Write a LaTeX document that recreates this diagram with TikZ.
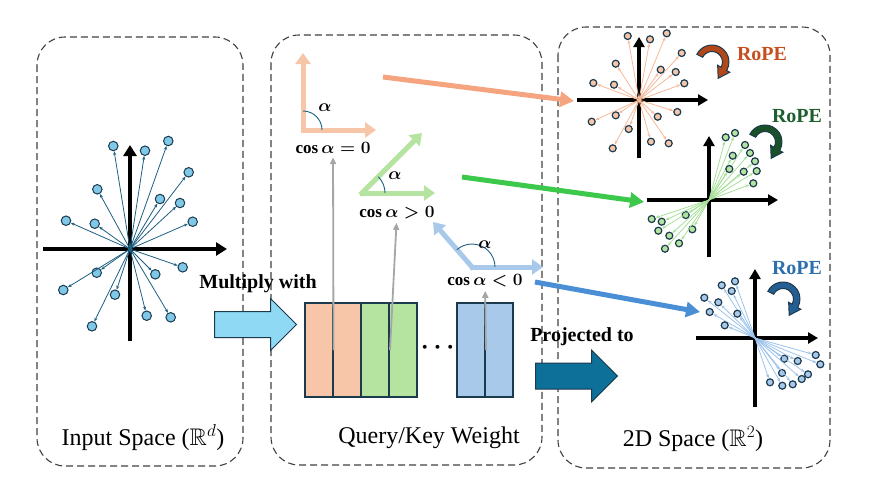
\documentclass[tikz,border=0pt]{standalone}
\usepackage{fontspec}
\setmainfont{Liberation Serif}
\usepackage{amsmath}
\usepackage{amssymb}
\usetikzlibrary{arrows.meta,shapes.arrows}

\definecolor{edgeD}{HTML}{1B3A4E}
\definecolor{rayL}{HTML}{1D5F80}
\definecolor{dotL}{HTML}{80C8E8}
\definecolor{vecO}{HTML}{F7C5A8}
\definecolor{vecG}{HTML}{B4E4A0}
\definecolor{vecB}{HTML}{A9C9EB}
\definecolor{rayO}{HTML}{F6B999}
\definecolor{rayG}{HTML}{A6DF98}
\definecolor{rayB}{HTML}{9CC3EC}
\definecolor{longO}{HTML}{F4A47F}
\definecolor{longG}{HTML}{3CC84A}
\definecolor{longB}{HTML}{4A8FD6}
\definecolor{ropeO}{HTML}{C5501D}
\definecolor{ropeG}{HTML}{1D5E2E}
\definecolor{ropeB}{HTML}{2C6FAD}
\definecolor{mulC}{HTML}{8FD9F5}
\definecolor{proC}{HTML}{0D7098}

\tikzset{
  panel/.style={draw=black!75, dash pattern=on 7pt off 4pt, line width=1.1pt, rounded corners=28pt},
  axisL/.style={line width=3.8pt, -{Triangle[length=11pt,width=13pt]}},
  axisR/.style={line width=3.2pt, -{Triangle[length=10pt,width=11pt]}},
  dotL/.style={circle, draw=edgeD, line width=1pt, fill=dotL, minimum size=9.5pt, inner sep=0pt},
  dotR/.style={circle, draw=edgeD, line width=1.2pt, fill=#1, minimum size=7pt, inner sep=0pt},
  rayline/.style={draw=#1, line width=0.8pt, -{Stealth[length=4pt,width=3pt]}},
  vec/.style={draw=#1, line width=5pt, line cap=rect, -{Triangle[length=11pt,width=15pt]}},
  angarc/.style={draw=rayL, line width=0.9pt},
  probe/.style={draw=black!35, line width=1.8pt, -{Triangle[length=7pt,width=6pt]}},
  longarrow/.style={draw=#1, line width=5pt, -{Triangle[length=14pt,width=15pt]}},
  wbox/.style={draw=edgeD, line width=2pt, fill=#1, minimum width=28pt, minimum height=94pt, inner sep=0pt},
  block/.style={single arrow, draw=edgeD, line width=1pt, fill=#1, inner xsep=0pt, inner ysep=12.5pt,
    single arrow head extend=13pt, minimum height=82pt, anchor=tail},
  lab/.style={font=\fontsize{24}{28}\selectfont},
  blab/.style={font=\fontsize{20}{24}\selectfont\bfseries},
  cosl/.style={font=\fontsize{17}{20}\selectfont\boldmath},
  rope/.style={text=#1, font=\fontsize{20}{24}\selectfont\bfseries},
  hook/.pic={
    \path[pic actions] (207:17) arc[start angle=207, end angle=390, radius=17]
      -- (390:20.5) -- (6.19,16.28) -- (390:6.5) -- (390:10.5)
      arc[start angle=390, end angle=207, radius=10.5] -- cycle;
  }
}

\begin{document}
\begin{tikzpicture}[x=1pt,y=-1pt]
\useasboundingbox (0,0) rectangle (874,483);

% panels
\draw[panel] (37,37) rectangle (243,466);
\draw[panel] (271,35) rectangle (542,465);
\draw[panel] (558,27) rectangle (830,468);

\node[lab] (inlab) at (143,438) {Input Space ($\mathbb{R}^d$)};
\node[lab] (wlab) at (429,438) {Query/Key Weight};
\node[lab] (outlab) at (693,439) {2D Space ($\mathbb{R}^2$)};

% input space
\draw[axisL] (43,249) -- (227,249);
\draw[axisL] (130,341) -- (130,145);
\begin{scope}[shift={(130,249)}]
\coordinate (lc) at (0,0);
\foreach \dx/\dy [count=\i] in {-16.7/-103, 15/-98.3, 38.3/-108, 58.7/-76.7, -32.7/-59.7, 30/-50,
  50/-46, -64/-28.3, -35.3/-25.3, 62.7/-27.3, 52.7/18.3, -33.3/23.7, 25.3/25.3, -66.7/41,
  -15/45.7, 16.7/66.7, 40.7/68.3, -38/77.3}{
  \node[dotL] (l\i) at (\dx,\dy) {};
  \draw[rayline=rayL] (lc) -- (l\i);
}
\end{scope}

% multiply
\node[block=mulC] (mul) at (214,324.5) {};
\node[blab] (multxt) at (258,284) {Multiply with};

% weights
\node[wbox=vecO] (q1) at (318.5,350) {};
\node[wbox=vecO] (q2) at (347,350) {};
\node[wbox=vecG] (q3) at (375,350) {};
\node[wbox=vecG] (q4) at (403,350) {};
\node[font=\fontsize{24}{26}\selectfont\boldmath] (dots) at (440,348) {$\cdots$};
\node[wbox=vecB] (q5) at (471,350) {};
\node[wbox=vecB] (q6) at (499,350) {};

% angle pairs
\node[cosl] (c0) at (333,148) {$\cos\alpha=0$};
\node[cosl] (cp) at (397,213) {$\cos\alpha>0$};
\node[cosl] (cn) at (485,281) {$\cos\alpha<0$};
\coordinate (vO) at (303,130);
\coordinate (vG) at (362,193);
\coordinate (vB) at (472,267);
\coordinate (vOa) at (303,53);
\coordinate (vOb) at (376,130);
\coordinate (vGa) at (422,133);
\coordinate (vGb) at (435,193);
\coordinate (vBa) at (433,222);
\coordinate (vBb) at (543,267);
\draw[vec=vecO] (vO) -- (vOa);
\draw[vec=vecO] (vO) -- (vOb);
\draw[vec=vecG] (vG) -- (vGa);
\draw[vec=vecG] (vG) -- (vGb);
\draw[vec=vecB] (vB) -- (vBa);
\draw[vec=vecB] (vB) -- (vBb);
\draw[angarc] (vO) ++(0:19) arc[start angle=0, end angle=-90, radius=19];
\draw[angarc] (vG) ++(0:23) arc[start angle=0, end angle=-45, radius=23];
\draw[angarc] (vB) ++(0:23) arc[start angle=0, end angle=-131, radius=23];
\node[cosl] (aO) at (325,108) {$\alpha$};
\node[cosl] (aG) at (395,176) {$\alpha$};
\node[cosl] (aB) at (485,245) {$\alpha$};

% probes
\draw[probe] (q1.east) -- (c0);
\draw[probe] (q3.east) -- (cp);
\draw[probe] (q5.east) -- (cn);

% projected
\node[block=proC] (pro) at (535,376) {};
\node[blab] (protxt) at (582,337) {Projected to};

% long arrows
\coordinate (sO) at (383,77);
\coordinate (eO) at (574,101);
\coordinate (sG) at (462,177);
\coordinate (eG) at (644,202);
\coordinate (sB) at (535,282);
\coordinate (eB) at (700,312);
\draw[longarrow=longO] (sO) -- (eO);
\draw[longarrow=longG] (sG) -- (eG);
\draw[longarrow=longB] (sB) -- (eB);

% 2D space: orange
\draw[axisR] (577,100) -- (708,100);
\draw[axisR] (639,158) -- (639,37);
\begin{scope}[shift={(639,100)}]
\coordinate (oc) at (0,0);
\foreach \dx/\dy [count=\i] in {-11.3/-64, 11/-60.7, 27.7/-66.7, 42.7/-47, -23.3/-36.3, 21.7/-30.3,
  36.7/-28, -45.7/-17, -25/-15.3, 45.3/-16.7, 38.3/12, -23.3/15.3, 18.7/16.7, -47.3/21.7,
  -10.3/29, 12/41.7, 29.7/43.3, -26.3/48.3}{
  \node[dotR=vecO] (o\i) at (\dx,\dy) {};
  \draw[rayline=rayO] (oc) -- (o\i);
}
\end{scope}
\pic[draw=edgeD, fill=ropeO!90!black, line width=1pt] at (712,62) {hook};
\node[rope=ropeO] (rO) at (762,54) {RoPE};

% 2D space: green
\draw[axisR] (647,200) -- (778,200);
\draw[axisR] (709,257) -- (709,136);
\begin{scope}[shift={(709,200)}]
\coordinate (gc) at (0,0);
\foreach \dx/\dy [count=\i] in {16.7/-62.7, 26/-67, 36/-55, 23.7/-44.3, 41/-47, 46/-38.7,
  20.3/-31, 34.7/-28.3, 47.7/-29, 44.3/-16.7, -23.3/15, -57.3/19, -47.3/21.7, -50.7/30.7,
  -16.7/29.3, -39.7/35.7, -30/43.3, -44/48.7}{
  \node[dotR=vecG] (g\i) at (\dx,\dy) {};
  \draw[rayline=rayG] (gc) -- (g\i);
}
\end{scope}
\pic[draw=edgeD, fill=ropeG!85!black, line width=1pt] at (765,142) {hook};
\node[rope=ropeG] (rG) at (797,116) {RoPE};

% 2D space: blue
\draw[axisR] (696,338) -- (818,338);
\draw[axisR] (755,407) -- (755,269);
\begin{scope}[shift={(755,338)}]
\coordinate (bc) at (0,0);
\foreach \dx/\dy [count=\i] in {-33.3/-52.7, -20/-56.7, -23.3/-47, -50.7/-40.3, -36.7/-35.7,
  -45.3/-26, -17.7/-24.3, -30.3/-12.7, 60.7/17, 65.3/26.3, 29.3/20.7, 42.7/23, 27/35,
  53/36.3, 46.7/41, 15/44.3, 27.3/47.7, 37.7/46.3}{
  \node[dotR=vecB] (b\i) at (\dx,\dy) {};
  \draw[rayline=rayB] (bc) -- (b\i);
}
\end{scope}
\pic[draw=edgeD, fill=ropeB!85!black, line width=1pt] at (783,299) {hook};
\node[rope=ropeB] (rB) at (797,268) {RoPE};
\end{tikzpicture}
\end{document}
